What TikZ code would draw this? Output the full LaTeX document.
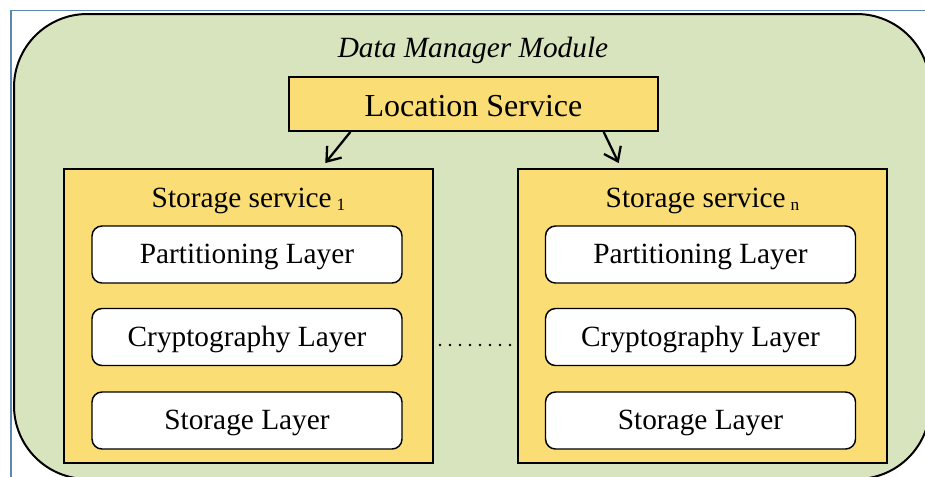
\documentclass[tikz,border=0pt]{standalone}
\usepackage{fontspec}
\setmainfont{Liberation Serif}
\usetikzlibrary{arrows.meta,calc}

\definecolor{modgreen}{HTML}{D7E4BD}
\definecolor{svcyellow}{HTML}{FADD75}
\definecolor{framblue}{HTML}{5A86B8}

\tikzset{
  module/.style={draw=black, line width=1.5pt, fill=modgreen, rounded corners=55pt,
    minimum width=687pt, minimum height=348.75pt, inner sep=0pt},
  svcbox/.style={draw=black, line width=1.4pt, fill=svcyellow,
    minimum width=276.75pt, minimum height=220.5pt, inner sep=0pt},
  locbox/.style={draw=black, line width=1.4pt, fill=svcyellow,
    minimum width=276.75pt, minimum height=40.5pt, inner sep=0pt,
    font=\fontsize{24}{28}\selectfont, text height=19pt, text depth=1pt},
  layerbox/.style={draw=black, line width=1.1pt, fill=white, rounded corners=7.5pt,
    minimum width=232.5pt, minimum height=42.75pt, inner sep=0pt,
    font=\fontsize{22}{26}\selectfont, text height=15pt, text depth=1.5pt},
  svctitle/.style={anchor=base, inner sep=0pt, font=\fontsize{22}{26}\selectfont},
  modtitle/.style={anchor=base, inner sep=0pt, font=\fontsize{22}{26}\selectfont\itshape},
  callarrow/.style={line width=1.7pt, -{Straight Barb[length=9.5pt,width=14pt,line width=1.7pt]}},
  ellipsis/.style={line width=2pt, line cap=round, dash pattern=on 0pt off 7.5pt}
}

\newcommand{\svcsub}[1]{\,{\fontsize{13}{13}\selectfont\raisebox{-2.4pt}{#1}}}

\begin{document}
\begin{tikzpicture}[x=0.75pt,y=-0.75pt]
  \useasboundingbox (0,0) rectangle (925,476);
  \clip (0,0) rectangle (925,476);
  \fill[white] (0,0) rectangle (925,476);

  % page frame
  \draw[framblue, line width=0.9pt] (11,10.5) rectangle (960,520);

  % outer module
  \node[module] (mod) at (472,246.5) {};
  \node[modtitle] (modname) at (473,57) {Data Manager Module};

  % location service
  \node[locbox] (loc) at (473.5,104) {Location Service};

  % storage service 1
  \node[svcbox] (s1) at (248.5,316) {};
  \node[svctitle] (s1name) at (248.5,207) {Storage service\svcsub{1}};
  \node[layerbox] (s1part)  at (247,254.5) {Partitioning Layer};
  \node[layerbox] (s1crypt) at (247,337)   {Cryptography Layer};
  \node[layerbox] (s1store) at (247,420.5) {Storage Layer};

  % storage service n
  \node[svcbox] (sn) at (702.5,316) {};
  \node[svctitle] (snname) at (702.5,207) {Storage service\svcsub{n}};
  \node[layerbox] (snpart)  at (700.5,254.5) {Partitioning Layer};
  \node[layerbox] (sncrypt) at (700.5,337)   {Cryptography Layer};
  \node[layerbox] (snstore) at (700.5,420.5) {Storage Layer};

  % calls from the location service
  \draw[callarrow] ($(loc.south west)!0.168!(loc.south east)$)
    -- ($(s1.north west)!0.707!(s1.north east)+(0,-5)$);
  \draw[callarrow] ($(loc.south west)!0.851!(loc.south east)$)
    -- ($(sn.north west)!0.274!(sn.north east)+(0,-5)$);

  % further services in between: eight dots, 10px apart
  \coordinate (dotsL) at (440,345);
  \coordinate (dotsR) at (510.3,345);
  \draw[ellipsis] (dotsL) -- (dotsR);
\end{tikzpicture}
\end{document}
